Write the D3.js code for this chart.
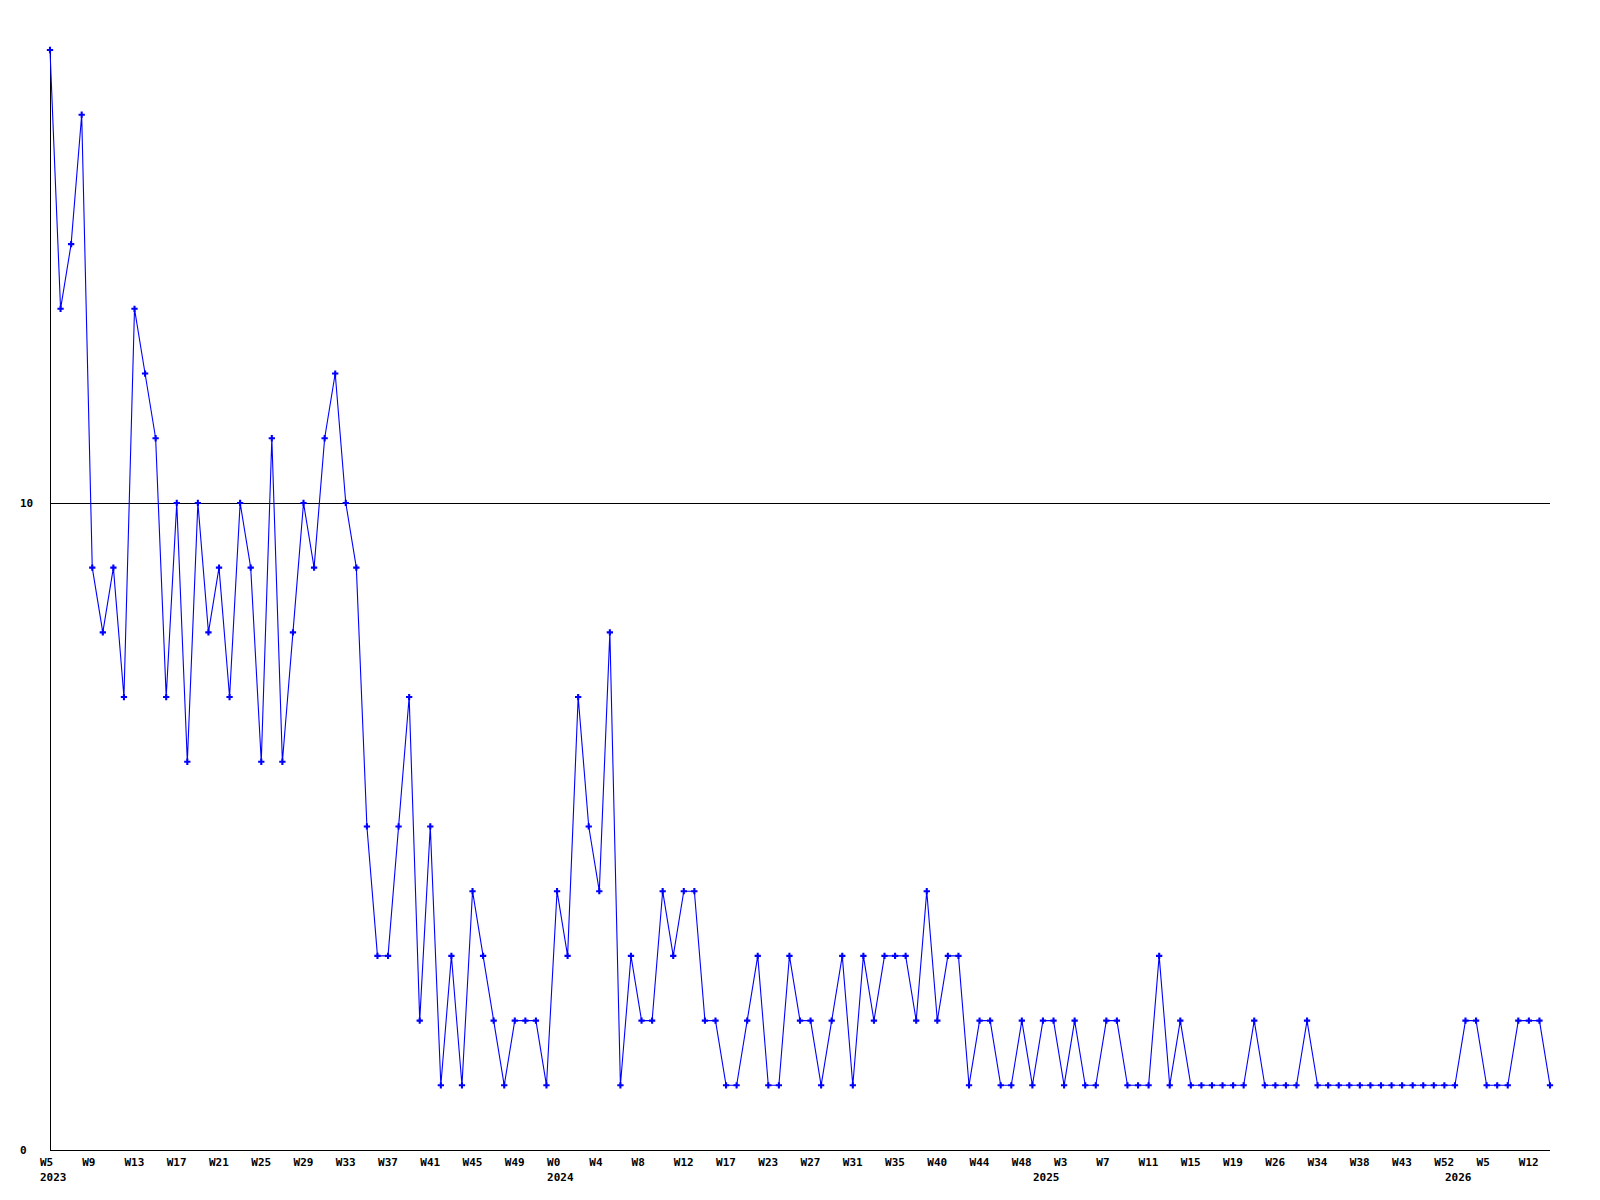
<!DOCTYPE html>
<html>
<head>
<meta charset="utf-8">
<script src="https://cdn.jsdelivr.net/npm/d3@7"></script>
<style>
  html, body { margin: 0; padding: 0; background: #ffffff; }
  svg { display: block; }
  text { font-family: "DejaVu Sans Mono", monospace; font-weight: bold; font-size: 11px; fill: #000; }
</style>
</head>
<body>
<script>
// ---- data ----
const weeks2023 = [5,6,7,8,9,10,11,12,13,14,15,16,17,18,19,20,21,22,23,24,25,26,27,28,29,30,31,32,33,34,35,36,37,38,39,40,41,42,43,44,45,46,47,48,49,50,51,52];
const weeks2024 = [0,1,2,3,4,5,6,7,8,9,10,11,12,13,14,16,17,19,20,21,23,24,25,26,27,28,29,30,31,32,33,34,35,36,37,39,40,41,42,43,44,45,46,47,48,50];
const weeks2025 = [1,2,3,4,5,6,7,8,9,10,11,12,13,14,15,16,17,18,19,21,22,24,26,28,30,32,34,35,36,37,38,39,40,42,43,45,47,50,52];
const weeks2026 = [1,3,4,5,7,9,10,12,13,14];
const yearNames = ["2023", "2024", "2025", "2026"];

const values = [
  17,13,14,16,9,8,9,7,13,12,
  11,7,10,6,10,8,9,7,10,9,
  6,11,6,8,10,9,11,12,10,9,
  5,3,3,5,7,2,5,1,3,1,
  4,3,2,1,2,2,2,1,4,3,
  7,5,4,8,1,3,2,2,4,3,
  4,4,2,2,1,1,2,3,1,1,
  3,2,2,1,2,3,1,3,2,3,
  3,3,2,4,2,3,3,1,2,2,
  1,1,2,1,2,2,1,2,1,1,
  2,2,1,1,1,3,1,2,1,1,
  1,1,1,1,2,1,1,1,1,2,
  1,1,1,1,1,1,1,1,1,1,
  1,1,1,1,2,2,1,1,1,2,
  2,2,1
];
const yTicks = [0, 10];
const yMax = 17;
const labelEvery = 4;

(function () {
  // ---- build categories ----
  const categories = [];
  [weeks2023, weeks2024, weeks2025, weeks2026].forEach((ws, yi) => {
    ws.forEach((w, wi) => categories.push({ year: yearNames[yi], week: "W" + w, first: wi === 0 }));
  });
  const data = categories.map((c, i) => ({ i, ...c, value: values[i] }));

  // ---- layout ----
  const W = 1600, H = 1200;
  const mLeft = 50, mRight = 1550, mTop = 50, mBottom = 1150;

  const svg = d3.select("body").append("svg").attr("width", W).attr("height", H);
  svg.append("rect").attr("width", W).attr("height", H).attr("fill", "#fff");

  const x = d3.scalePoint().domain(data.map(d => d.i)).range([mLeft, mRight]);
  const y = d3.scaleLinear().domain([0, yMax]).range([mBottom, mTop]);

  // axes
  svg.append("line").attr("x1", mLeft + 0.5).attr("x2", mLeft + 0.5).attr("y1", mTop).attr("y2", mBottom)
    .attr("stroke", "#000").attr("stroke-width", 1);
  svg.append("line").attr("x1", mLeft).attr("x2", mRight).attr("y1", mBottom + 0.5).attr("y2", mBottom + 0.5)
    .attr("stroke", "#000").attr("stroke-width", 1);

  // grid line + y labels
  yTicks.forEach(t => {
    if (t > 0) {
      svg.append("line").attr("x1", mLeft).attr("x2", mRight)
        .attr("y1", Math.round(y(t)) + 0.5).attr("y2", Math.round(y(t)) + 0.5)
        .attr("stroke", "#000").attr("stroke-width", 1);
    }
    svg.append("text").attr("x", 20).attr("y", y(t) + 4).text(String(t));
  });

  // x labels
  const xl = svg.append("g");
  data.filter(d => d.i % labelEvery === 0).forEach(d => {
    xl.append("text").attr("x", x(d.i) - 10).attr("y", 1166).text(d.week);
  });
  data.filter(d => d.first).forEach(d => {
    xl.append("text").attr("x", x(d.i) - 10).attr("y", 1181).text(d.year);
  });

  // line
  const line = d3.line().x(d => x(d.i)).y(d => y(d.value));
  svg.append("path").datum(data).attr("d", line)
    .attr("fill", "none").attr("stroke", "#0000ff").attr("stroke-width", 1.1);

  // markers
  const sym = d3.symbol().type(d3.symbolCross).size(22);
  svg.append("g").selectAll("path").data(data).join("path")
    .attr("transform", d => `translate(${x(d.i)},${y(d.value)})`)
    .attr("d", sym)
    .attr("fill", "#0000ff");
})();
</script>
</body>
</html>
